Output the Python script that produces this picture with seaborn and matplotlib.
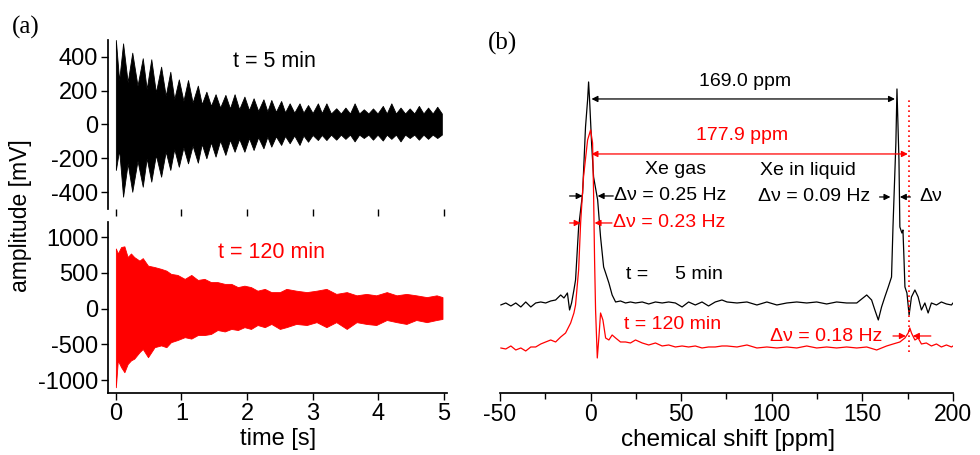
import matplotlib
matplotlib.use("Agg")
import matplotlib.pyplot as plt
import numpy as np
import pandas as pd
import seaborn as sns

# ---- (a) FID, t = 5 min : spike tops / bottoms and the fill level between spikes
t_peak = [0.00, 0.11, 0.25, 0.41, 0.54, 0.69, 0.83, 0.96, 1.10, 1.25, 1.38, 1.52,
          1.67, 1.81, 1.96, 2.10, 2.25, 2.37, 2.52, 2.65, 2.80, 2.93, 3.08, 3.21,
          3.36, 3.50, 3.64, 3.78, 3.92, 4.07, 4.20, 4.34, 4.48, 4.62, 4.76, 4.90]
t_valley = [0.05, 0.18, 0.33, 0.47, 0.61, 0.76, 0.89, 1.03, 1.17, 1.31, 1.45, 1.59,
            1.74, 1.88, 2.03, 2.17, 2.31, 2.44, 2.58, 2.72, 2.86, 3.00, 3.14, 3.28,
            3.43, 3.57, 3.71, 3.85, 3.99, 4.13, 4.27, 4.41, 4.55, 4.69, 4.83, 4.97]
upper_peak = [500, 480, 425, 392, 386, 342, 312, 267, 263, 230, 194, 179,
              175, 179, 165, 155, 149, 145, 139, 125, 125, 115, 125, 125,
              96, 100, 125, 90, 95, 110, 125, 100, 95, 110, 100, 105]
upper_inner = [260, 250, 230, 210, 190, 170, 150, 140, 130, 120, 110, 100,
               95, 90, 85, 80, 78, 75, 72, 70, 70, 68, 68, 65,
               65, 65, 65, 65, 65, 65, 65, 65, 65, 65, 65, 65]
lower_peak = [-269, -427, -398, -368, -338, -309, -269, -250, -230, -226, -200, -190,
              -180, -161, -161, -151, -141, -131, -121, -111, -121, -102, -92, -92,
              -90, -85, -100, -80, -90, -95, -85, -100, -80, -90, -85, -80]
lower_inner = [-150, -230, -215, -200, -180, -160, -145, -135, -125, -115, -105, -95,
               -90, -85, -80, -75, -72, -70, -68, -65, -65, -62, -62, -60,
               -60, -60, -60, -60, -60, -60, -60, -60, -60, -60, -60, -60]

# ---- (a) FID, t = 120 min : envelope
t_red = [0.00, 0.03, 0.08, 0.13, 0.18, 0.23, 0.28, 0.36, 0.41, 0.49, 0.59, 0.69,
         0.77, 0.84, 0.94, 1.05, 1.15, 1.25, 1.35, 1.45, 1.55, 1.66, 1.76, 1.86,
         1.96, 2.06, 2.16, 2.27, 2.37, 2.50, 2.60, 2.75, 2.91, 3.06, 3.21, 3.36,
         3.52, 3.67, 3.82, 3.97, 4.13, 4.28, 4.43, 4.58, 4.74, 4.89, 4.98]
red_upper = [840, 770, 860, 870, 720, 770, 720, 670, 705, 600, 580, 555,
             530, 485, 470, 415, 470, 400, 415, 370, 370, 345, 345, 300,
             320, 300, 250, 275, 230, 230, 275, 250, 230, 250, 275, 205,
             230, 185, 205, 185, 230, 185, 205, 185, 160, 185, 160]
red_lower = [-1100, -725, -820, -890, -775, -725, -700, -610, -565, -680, -540, -515,
             -540, -470, -440, -400, -420, -370, -370, -355, -300, -320, -285, -300,
             -260, -285, -230, -260, -215, -285, -260, -215, -230, -190, -260, -190,
             -285, -190, -215, -230, -160, -190, -215, -160, -190, -160, -145]

# ---- (b) spectra, shift in ppm, intensity in arbitrary units
ppm_black = [-49.6, -46.8, -44.0, -41.3, -38.5, -35.8, -33.0, -30.3, -27.5, -24.8,
             -22.0, -19.3, -16.5, -14.7, -12.8, -11.6, -10.5, -9.2, -8.3, -6.6,
             -4.4, -2.8, -1.65, -1.1, -0.55, 0.55, 1.65, 3.9, 5.5, 7.2,
             8.3, 10.1, 11.9, 13.8, 16.5, 19.3, 22.0, 24.8, 28.5, 32.1,
             35.8, 39.5, 43.1, 46.8, 50.5, 54.1, 57.8, 61.5, 65.1, 68.8,
             72.5, 75.3, 80.8, 86.3, 91.8, 97.3, 102.8, 108.3, 113.8, 119.3,
             124.8, 130.3, 135.8, 141.3, 146.9, 152.4, 155.1, 156.9, 158.8, 160.6,
             162.4, 164.3, 166.1, 166.9, 168.5, 169.1, 170.2, 170.7, 171.8, 172.4,
             173.0, 173.5, 174.6, 175.8, 177.1, 179.0, 180.8, 182.6, 184.5, 186.3,
             188.1, 190.9, 193.6, 196.4, 199.2, 200.0]
int_black = [88, 90, 87, 90, 86, 91, 86, 90, 91, 90,
             92, 93, 98, 95, 100, 83, 90, 103, 113, 166,
             200, 266, 293, 311, 293, 250, 216, 193, 156, 126,
             120, 110, 98, 91, 92, 90, 91, 90, 91, 89,
             91, 90, 91, 90, 86, 91, 88, 91, 87, 91,
             93, 91, 90, 91, 88, 91, 88, 90, 91, 90,
             91, 89, 91, 90, 90, 98, 93, 83, 73, 86,
             96, 106, 116, 166, 250, 304, 233, 166, 160, 163,
             133, 106, 100, 78, 96, 103, 96, 83, 90, 80,
             90, 88, 91, 89, 88, 90]

ppm_red = [-49.6, -46.8, -44.0, -41.3, -38.5, -35.8, -33.0, -30.3, -27.5, -24.8,
           -22.0, -19.3, -16.5, -13.8, -11.0, -9.2, -8.3, -6.6, -5.5, -3.9,
           -1.65, 0.0, 1.1, 1.65, 2.2, 2.75, 3.7, 4.6, 5.5, 6.8,
           8.3, 10.1, 11.9, 13.8, 16.5, 19.3, 22.0, 24.8, 28.5, 32.1,
           35.8, 39.5, 43.1, 46.8, 50.5, 54.1, 57.8, 61.5, 65.1, 68.8,
           72.5, 75.3, 80.8, 86.3, 91.8, 97.3, 102.8, 108.3, 113.8, 119.3,
           124.8, 130.3, 135.8, 141.3, 146.9, 152.4, 157.9, 163.4, 167.0, 170.7,
           173.5, 175.3, 176.2, 177.1, 179.0, 180.8, 182.6, 185.3, 188.1, 190.9,
           193.6, 196.4, 199.2, 200.0]
int_red = [45, 44, 47, 43, 45, 42, 46, 46, 49, 51,
           53, 51, 56, 60, 70, 80, 88, 123, 170, 216,
           253, 263, 250, 200, 133, 83, 35, 56, 80, 73,
           55, 53, 58, 55, 51, 51, 50, 53, 50, 48,
           50, 47, 48, 46, 47, 46, 47, 45, 46, 46,
           47, 47, 46, 48, 45, 46, 45, 46, 45, 47,
           45, 46, 45, 46, 45, 46, 43, 47, 49, 51,
           55, 60, 65, 60, 53, 55, 49, 50, 47, 49,
           46, 48, 46, 47]

RED = "#ff0000"

sns.set_theme(style="ticks")
plt.rcParams['font.family'] = ['Liberation Sans', 'DejaVu Sans']
plt.rcParams['axes.edgecolor'] = 'black'
plt.rcParams['xtick.color'] = 'black'
plt.rcParams['ytick.color'] = 'black'
plt.rcParams['text.color'] = 'black'
plt.rcParams['axes.unicode_minus'] = False

fig = plt.figure(figsize=(9.8, 4.55), dpi=100)
ax1 = fig.add_axes([0.1102, 0.5407, 0.346, 0.3714])
ax2 = fig.add_axes([0.1102, 0.1363, 0.346, 0.3758])
axb = fig.add_axes([0.5102, 0.1363, 0.4622, 0.7319])

# top FID
t_edge = np.ravel(np.column_stack([t_peak, t_valley]))
up_edge = np.ravel(np.column_stack([upper_peak, upper_inner]))
lo_edge = np.ravel(np.column_stack([lower_peak, lower_inner]))
ax1.fill_between(t_edge, lo_edge, up_edge, color='black', lw=0.6)
ax1.set_xlim(-0.12, 5.05)
ax1.set_ylim(-500, 500)
ax1.set_yticks([-400, -200, 0, 200, 400])
ax1.set_xticks([0, 1, 2, 3, 4, 5])
ax1.set_xticklabels([])
for s in ['top', 'right', 'bottom']:
    ax1.spines[s].set_visible(False)
ax1.text(1.78, 370, 't = 5 min', fontsize=15.5, ha='left', va='center')

# bottom FID
ax2.fill_between(t_red, red_lower, red_upper, color=RED, lw=0.6)
ax2.set_xlim(-0.12, 5.05)
ax2.set_ylim(-1180, 1210)
ax2.set_yticks([-1000, -500, 0, 500, 1000])
ax2.set_xticks([0, 1, 2, 3, 4, 5])
for s in ['top', 'right']:
    ax2.spines[s].set_visible(False)
ax2.text(1.55, 783, 't = 120 min', fontsize=15.5, ha='left', va='center', color=RED)

for ax in (ax1, ax2):
    ax.tick_params(direction='out', length=5, width=1, labelsize=17, pad=2)
    ax.set_xlabel('')
    ax.set_ylabel('')

fig.text(0.021, 0.527, 'amplitude [mV]', rotation=90, fontsize=16.5, ha='center', va='center')
fig.text(0.284, 0.036, 'time [s]', fontsize=17, ha='center', va='center')

# (b) spectra
spec = pd.DataFrame({'ppm': ppm_black, 'I': int_black})
spec_red = pd.DataFrame({'ppm': ppm_red, 'I': int_red})
sns.lineplot(data=spec, x='ppm', y='I', ax=axb, color='black', lw=0.9,
             sort=False, estimator=None)
sns.lineplot(data=spec_red, x='ppm', y='I', ax=axb, color=RED, lw=0.9,
             sort=False, estimator=None)
axb.set_xlim(-50, 200)
axb.set_ylim(0, 333)
axb.set_xticks([-50, 0, 50, 100, 150, 200])
axb.set_xticks([-25, 25, 75, 125, 175], minor=True)
axb.set_yticks([])
for s in ['top', 'right', 'left']:
    axb.spines[s].set_visible(False)
axb.tick_params(axis='x', which='major', direction='out', length=6, width=1,
                labelsize=16.5, pad=1.5)
axb.tick_params(axis='x', which='minor', direction='out', length=4, width=1)
axb.set_xlabel('')
axb.set_ylabel('')
fig.text(0.743, 0.034, 'chemical shift [ppm]', fontsize=17.5, ha='center', va='center')

# annotations
fs = 14
def arrow(x0, x1, y, col, style='-|>'):
    axb.annotate('', xy=(x1, y), xytext=(x0, y),
                 arrowprops=dict(arrowstyle=style, color=col, lw=0.9,
                                 mutation_scale=9, shrinkA=0, shrinkB=0))

axb.text(85.4, 311, '169.0 ppm', fontsize=fs, ha='center', va='center')
arrow(0.5, 168, 294, 'black', '<|-|>')
axb.text(83.7, 257, '177.9 ppm', fontsize=fs, ha='center', va='center', color=RED)
arrow(0.5, 175.1, 239, RED, '<|-|>')
axb.vlines(175.7, 41, 293, colors=RED, linestyles=(0, (1, 2)), lw=1.2)

axb.text(46.8, 223, 'Xe gas', fontsize=fs, ha='center', va='center')
axb.text(12.7, 197, 'Δν = 0.25 Hz', fontsize=fs, ha='left', va='center')
arrow(-11.6, -4.4, 197, 'black')
arrow(12.5, 3.9, 197, 'black')
axb.text(12.1, 170, 'Δν = 0.23 Hz', fontsize=fs, ha='left', va='center', color=RED)
arrow(-11.6, -5.5, 170, RED)
arrow(11.8, 2.2, 170, RED)

axb.text(93.6, 222, 'Xe in liquid', fontsize=fs, ha='left', va='center')
axb.text(92.5, 196, 'Δν = 0.09 Hz', fontsize=fs, ha='left', va='center')
arrow(159.5, 165.5, 196, 'black')
arrow(176.5, 170.7, 196, 'black')
axb.text(181.7, 196, 'Δν', fontsize=fs, ha='left', va='center')

axb.text(19.3, 118, 't =     5 min', fontsize=fs, ha='left', va='center')
axb.text(18.2, 68, 't = 120 min', fontsize=fs, ha='left', va='center', color=RED)
axb.text(99.1, 56, 'Δν = 0.18 Hz', fontsize=fs, ha='left', va='center', color=RED)
arrow(166.9, 174.0, 57, RED)
arrow(187.8, 177.9, 57, RED)

fig.text(0.026, 0.94, '(a)', fontsize=18, family='Liberation Serif', ha='center', va='center')
fig.text(0.513, 0.905, '(b)', fontsize=18, family='Liberation Serif', ha='center', va='center')

fig.savefig('out.png', dpi=100)
